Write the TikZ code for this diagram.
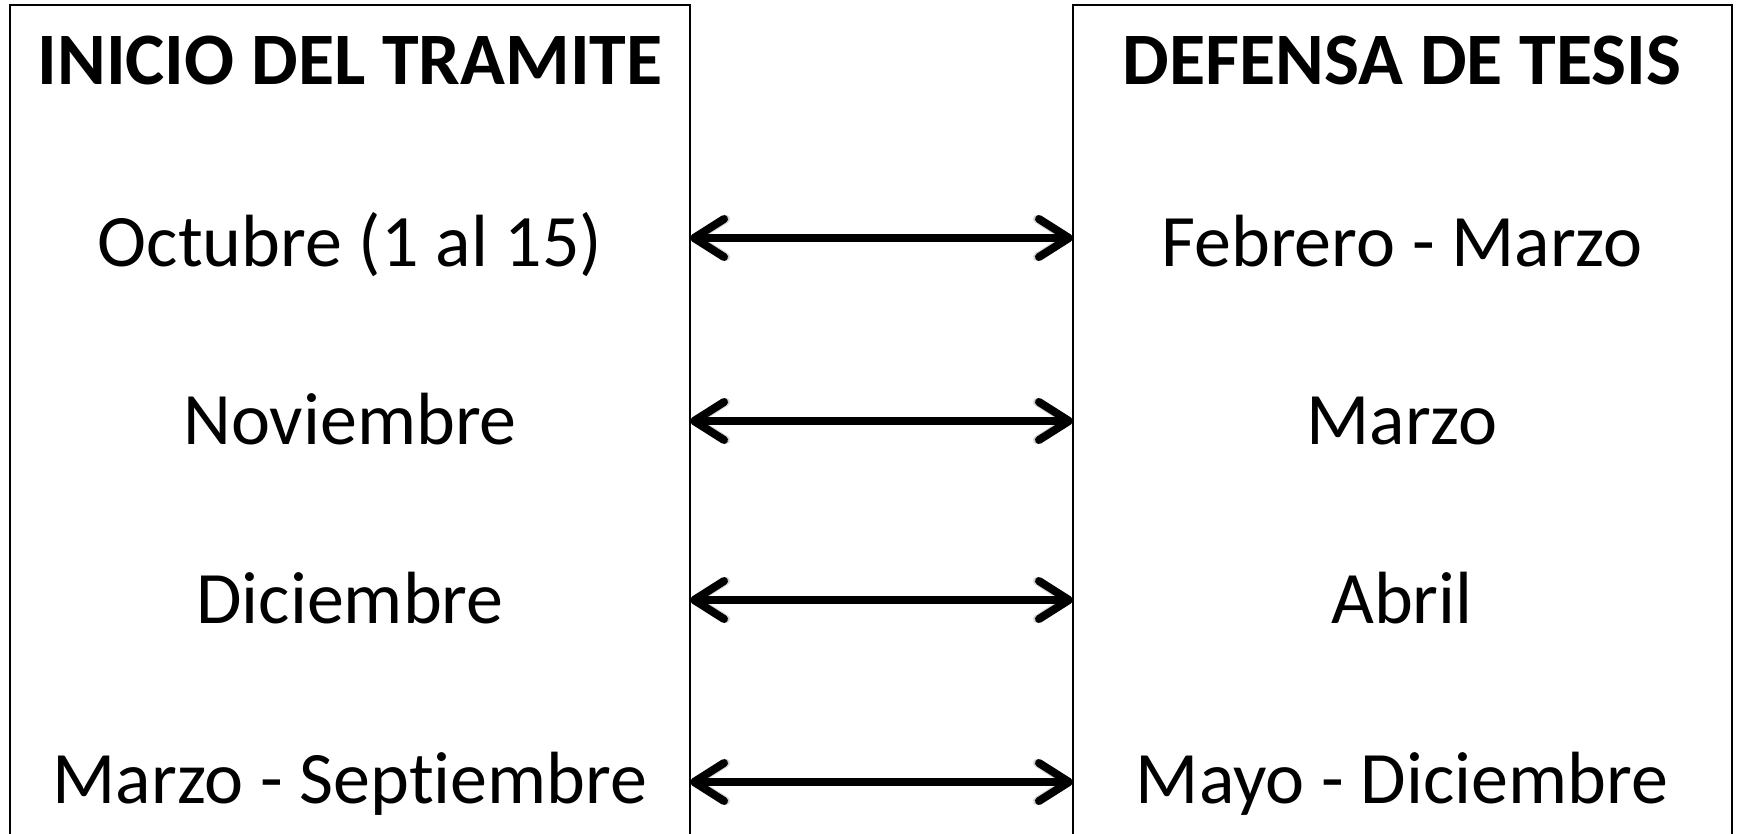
\documentclass[tikz,border=0pt]{standalone}
\usepackage{fontspec}
\setmainfont[Ligatures={NoCommon}]{Carlito}
\usetikzlibrary{arrows.meta}
\begin{document}
\begin{tikzpicture}[x=1pt,y=-1pt,
  lbl/.style={anchor=base,inner sep=0pt,font=\fontsize{74}{80}\selectfont},
  ttl/.style={anchor=base,inner sep=0pt,font=\fontsize{74}{80}\selectfont\bfseries},
  box/.style={line width=2pt,draw=black},
  link/.style={line width=8pt,line cap=round,
    {Straight Barb[length=30pt,width=38pt,round]}-{Straight Barb[length=30pt,width=38pt,round]}},
  shadowlink/.style={link,draw=black,opacity=0.18,shorten >=2pt,shorten <=2pt}]
\useasboundingbox (0,0) rectangle (1739,834);
% boxes (open at the bottom)
\draw[box] (10,834) -- (10,5) -- (690,5) -- (690,834);
\draw[box] (1073,834) -- (1073,5) -- (1732,5) -- (1732,834);
% titles
\node[ttl] (tl) at (350,85) {INICIO DEL TRAMITE};
\node[ttl] (tr) at (1402,85) {DEFENSA DE TESIS};
% rows
\foreach \i/\y/\t/\a/\b in {1/238/267/{Octubre (1 al 15)}/{Febrero - Marzo},
                          2/421/444/{Noviembre}/{Marzo},
                          3/600/623/{Diciembre}/{Abril},
                          4/782/803/{Marzo - Septiembre}/{Mayo - Diciembre}}{
  \node[lbl] (l\i) at (350,\t) {\a};
  \node[lbl] (r\i) at (1402,\t) {\b};
  \coordinate (la\i) at (690,\y);
  \coordinate (ra\i) at (1073,\y);
  \begin{scope}[shift={(2,4)}]
    \draw[shadowlink] (la\i) -- (ra\i);
  \end{scope}
  \draw[link] (la\i) -- (ra\i);
}
\end{tikzpicture}
\end{document}
